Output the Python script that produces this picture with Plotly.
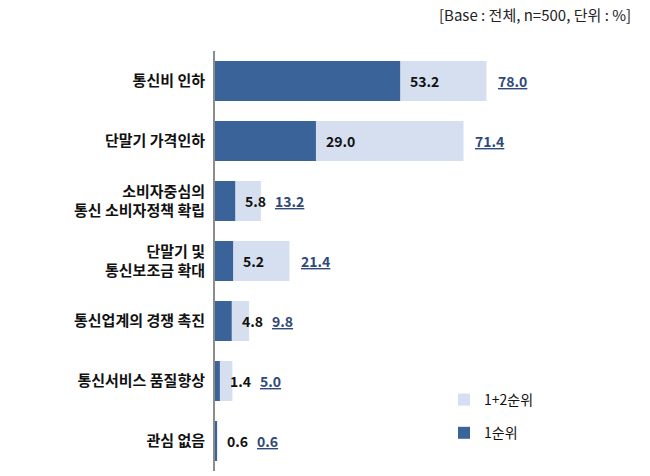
import plotly.graph_objects as go

categories = ["통신비 인하", "단말기 가격인하", "소비자중심의<br>통신 소비자정책 확립",
              "단말기 및<br>통신보조금 확대", "통신업계의 경쟁 촉진",
              "통신서비스 품질향상", "관심 없음"]
rank1 = [53.2, 29.0, 5.8, 5.2, 4.8, 1.4, 0.6]
rank12 = [78.0, 71.4, 13.2, 21.4, 9.8, 5.0, 0.6]
note = "[Base : 전체, n=500, 단위 : %]"

DARK = "#3a6399"
LIGHT = "#d5dff0"
FONT = "Noto Sans CJK KR"

W, H = 650, 476
ML, MR, MT, MB = 215, 87, 51, 5
XMAX = 100
pxu = (W - ML - MR) / XMAX
pw, ph = W - ML - MR, H - MT - MB

fig = go.Figure()
fig.add_trace(go.Bar(y=categories, x=rank12, orientation="h", name="1+2순위",
                     marker=dict(color=LIGHT, line=dict(width=0)), legendgroup="a"))
fig.add_trace(go.Bar(y=categories, x=rank1, orientation="h", name="1순위",
                     marker=dict(color=DARK, line=dict(width=0)), legendgroup="b"))

ann = []
for c, d, l in zip(categories, rank1, rank12):
    ann.append(dict(x=d, y=c, xref="x", yref="y", text=f"<b>{d:.1f}</b>", showarrow=False,
                    xanchor="left", xshift=8, font=dict(family=FONT, size=14, color="#111111")))
    lx = max(l * pxu + 10, d * pxu + 38)
    ann.append(dict(x=0, y=c, xref="x", yref="y", text=f"<b><u>{l:.1f}</u></b>", showarrow=False,
                    xanchor="left", xshift=lx, font=dict(family=FONT, size=14, color="#2f4a7a")))
ann.append(dict(x=(633 - ML) / pw, y=1 + (MT - 14) / ph, xref="paper", yref="paper", text=note,
                showarrow=False, xanchor="right", yanchor="middle",
                font=dict(family=FONT, size=15, color="#222222")))

fig.update_layout(
    width=W, height=H, margin=dict(l=ML, r=MR, t=MT, b=MB),
    barmode="overlay", bargap=1/3,
    plot_bgcolor="white", paper_bgcolor="white",
    font=dict(family=FONT, size=14, color="#111111"),
    xaxis=dict(range=[0, XMAX], visible=False, fixedrange=True),
    yaxis=dict(autorange="reversed", showline=True, linecolor="#8c8c8c", linewidth=2,
               ticks="", showgrid=False, ticklabelstandoff=5,
               tickfont=dict(family=FONT, size=15, color="#111111", weight="bold")),
    showlegend=True,
    legend=dict(x=(444 - ML) / pw, y=1 - (384 - MT) / ph, xanchor="left", yanchor="top",
                traceorder="grouped", tracegroupgap=12, bgcolor="rgba(0,0,0,0)",
                font=dict(family=FONT, size=14, color="#111111")),
    annotations=ann,
)
fig.write_html("out.html")
